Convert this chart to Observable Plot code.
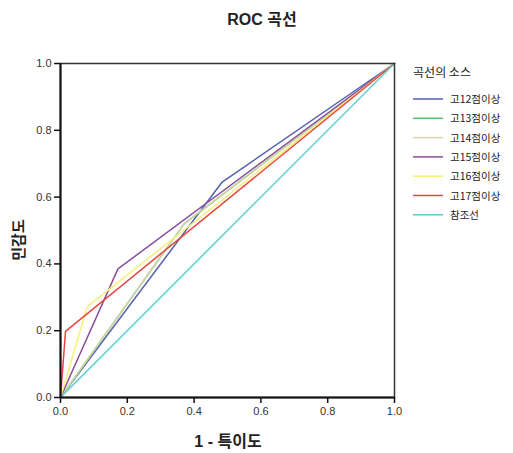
<!DOCTYPE html>
<html><head><meta charset="utf-8">
<script src="https://cdn.jsdelivr.net/npm/d3@7"></script>
<script src="https://cdn.jsdelivr.net/npm/@observablehq/plot@0.6"></script>
<style>
body{margin:0;background:#fff;}
#wrap{position:relative;width:513px;height:453px;font-family:"Liberation Sans",Arial,sans-serif;color:#222;}
#wrap svg.plot{position:absolute;left:0;top:0;}
.t{position:absolute;white-space:nowrap;font-family:"Liberation Sans","Noto Sans CJK KR",sans-serif;}
#legend{position:absolute;left:410px;top:64px;font-family:"Noto Sans CJK KR",sans-serif;}
</style></head><body><div id="wrap"></div>
<script>
const series = ["고12점이상","고13점이상","고14점이상","고15점이상","고16점이상","고17점이상","참조선"];
const colors = ["#5462ad","#4fc26b","#d6d4aa","#8a4c9e","#f7f07c","#e8453c","#5ccfc6"];
const fpr12 = [0, 0.484, 1], tpr12 = [0, 0.645, 1];
const fpr13 = [0, 0.370, 1], tpr13 = [0, 0.520, 1];
const fpr14 = [0, 0.372, 1], tpr14 = [0, 0.522, 1];
const fpr15 = [0, 0.172, 1], tpr15 = [0, 0.385, 1];
const fpr16 = [0, 0.080, 1], tpr16 = [0, 0.272, 1];
const fpr17 = [0, 0.015, 1], tpr17 = [0, 0.198, 1];
const fprRef = [0, 1], tprRef = [0, 1];
const ticks = [0, 0.2, 0.4, 0.6, 0.8, 1.0];

const xs = [fpr12, fpr13, fpr14, fpr15, fpr16, fpr17, fprRef];
const ys = [tpr12, tpr13, tpr14, tpr15, tpr16, tpr17, tprRef];
const rows = [];
series.forEach((s, i) => xs[i].forEach((x, j) => rows.push({series: s, x, y: ys[i][j]})));

const fmt = d3.format(".1f");
const chart = Plot.plot({
  width: 513, height: 453,
  marginLeft: 60, marginRight: 119, marginTop: 63, marginBottom: 56,
  x: {domain: [0, 1]},
  y: {domain: [0, 1]},
  color: {domain: series, range: colors},
  style: {fontFamily: "Liberation Sans, Arial, sans-serif", fontSize: "11px", color: "#333", background: "#fff"},
  marks: [
    Plot.line(rows, {x: "x", y: "y", z: "series", stroke: "series", strokeWidth: 1.5}),
    Plot.frame({stroke: "#333", strokeWidth: 1.5}),
    Plot.axisX({ticks, tickFormat: fmt, tickSize: 6, tickPadding: 4, label: null, stroke: "#111", strokeWidth: 1.5, fontSize: 11}),
    Plot.axisY({ticks, tickFormat: fmt, tickSize: 6, tickPadding: 3, label: null, stroke: "#111", strokeWidth: 1.5, fontSize: 11}),
    Plot.ruleX([0], {stroke: "#111", strokeWidth: 2}),
    Plot.ruleY([0], {stroke: "#111", strokeWidth: 2})
  ]
});
chart.classList.add("plot");
const wrap = document.getElementById("wrap");
wrap.appendChild(chart);

function addText(txt, css) {
  const d = document.createElement("div");
  d.className = "t";
  d.textContent = txt;
  Object.assign(d.style, css);
  wrap.appendChild(d);
  return d;
}
addText("ROC 곡선", {left: "262px", top: "6px", transform: "translateX(-50%)", fontWeight: "bold", fontSize: "16px", color: "#222"});
addText("1 - 특이도", {left: "228px", top: "428px", transform: "translateX(-50%)", fontWeight: "bold", fontSize: "16px", color: "#222"});
addText("민감도", {left: "17px", top: "240px", transform: "translate(-50%,-50%) rotate(-90deg)", fontWeight: "bold", fontSize: "15px", color: "#222"});

const leg = document.createElement("div");
leg.id = "legend";
wrap.appendChild(leg);
const ns = "http://www.w3.org/2000/svg";
const lsvg = document.createElementNS(ns, "svg");
lsvg.setAttribute("width", 103); lsvg.setAttribute("height", 160);
const tt = document.createElementNS(ns, "text");
tt.setAttribute("x", 32); tt.setAttribute("y", 13); tt.setAttribute("text-anchor", "middle");
tt.setAttribute("font-size", "12"); tt.setAttribute("fill", "#222");
tt.setAttribute("font-family", "Noto Sans CJK KR, sans-serif");
tt.textContent = "곡선의 소스";
lsvg.appendChild(tt);
series.forEach((s, i) => {
  const y = 35 + i * 19.3;
  const l = document.createElementNS(ns, "line");
  l.setAttribute("x1", 3); l.setAttribute("x2", 33); l.setAttribute("y1", y); l.setAttribute("y2", y);
  l.setAttribute("stroke", colors[i]); l.setAttribute("stroke-width", 1.5);
  lsvg.appendChild(l);
  const t = document.createElementNS(ns, "text");
  t.setAttribute("x", 40); t.setAttribute("y", y + 4);
  t.setAttribute("font-size", "10.5"); t.setAttribute("fill", "#222");
  t.setAttribute("font-family", "Noto Sans CJK KR, sans-serif");
  t.textContent = s;
  lsvg.appendChild(t);
});
leg.appendChild(lsvg);
</script>
</body></html>
